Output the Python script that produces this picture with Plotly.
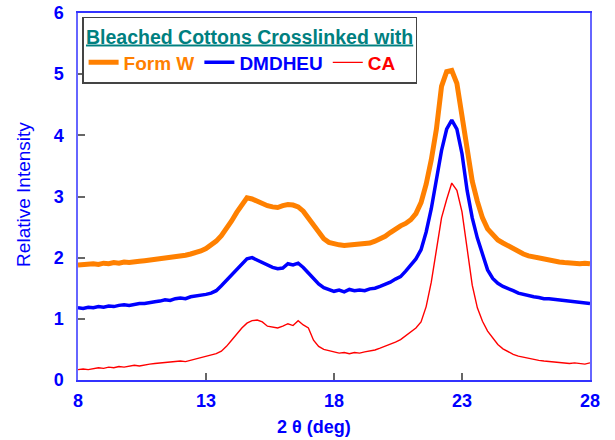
import plotly.graph_objects as go

two_theta = [round(8 + 0.2 * i, 1) for i in range(101)]

form_w = [1.88, 1.89, 1.88, 1.90, 1.89, 1.91, 1.90, 1.92, 1.91, 1.93,
          1.92, 1.94, 1.94, 1.95, 1.96, 1.96, 1.98, 1.99, 2.00, 2.01,
          2.02, 2.04, 2.06, 2.08, 2.11, 2.15, 2.20, 2.27, 2.36, 2.47,
          2.60, 2.74, 2.86, 2.98, 2.96, 2.92, 2.89, 2.85, 2.83, 2.82,
          2.85, 2.87, 2.86, 2.83, 2.76, 2.65, 2.52, 2.40, 2.31, 2.25,
          2.22, 2.21, 2.20, 2.21, 2.20, 2.22, 2.22, 2.24, 2.27, 2.30,
          2.35, 2.41, 2.47, 2.52, 2.56, 2.62, 2.72, 2.90, 3.20, 3.60,
          4.10, 4.80, 5.04, 5.06, 4.85, 4.30, 3.70, 3.25, 2.92, 2.65,
          2.47, 2.37, 2.29, 2.24, 2.19, 2.14, 2.10, 2.06, 2.03, 2.01,
          1.99, 1.97, 1.95, 1.94, 1.93, 1.92, 1.91, 1.92, 1.90, 1.91, 1.90]

dmdheu = [1.18, 1.17, 1.19, 1.18, 1.20, 1.19, 1.21, 1.20, 1.22, 1.23,
          1.22, 1.24, 1.25, 1.25, 1.27, 1.28, 1.29, 1.31, 1.30, 1.33,
          1.34, 1.33, 1.36, 1.37, 1.39, 1.40, 1.42, 1.46, 1.54, 1.63,
          1.72, 1.81, 1.90, 1.98, 2.00, 1.96, 1.92, 1.87, 1.84, 1.82,
          1.83, 1.90, 1.88, 1.91, 1.84, 1.75, 1.65, 1.57, 1.51, 1.48,
          1.45, 1.47, 1.44, 1.48, 1.46, 1.47, 1.46, 1.49, 1.50, 1.53,
          1.56, 1.60, 1.65, 1.69, 1.78, 1.88, 1.98, 2.13, 2.42, 2.80,
          3.28, 3.75, 4.10, 4.25, 4.10, 3.70, 3.10, 2.65, 2.32, 2.05,
          1.80, 1.66, 1.58, 1.53, 1.50, 1.46, 1.42, 1.40, 1.37, 1.36,
          1.35, 1.33, 1.33, 1.32, 1.31, 1.30, 1.29, 1.28, 1.28, 1.26, 1.25]

ca = [0.17, 0.18, 0.17, 0.19, 0.20, 0.19, 0.21, 0.20, 0.22, 0.21,
      0.23, 0.24, 0.23, 0.25, 0.26, 0.27, 0.28, 0.28, 0.29, 0.30,
      0.31, 0.30, 0.32, 0.34, 0.36, 0.38, 0.40, 0.43, 0.47, 0.55,
      0.65, 0.75, 0.85, 0.93, 0.97, 0.98, 0.95, 0.88, 0.86, 0.85,
      0.88, 0.92, 0.89, 0.97, 0.90, 0.85, 0.65, 0.55, 0.50, 0.48,
      0.46, 0.44, 0.45, 0.43, 0.45, 0.44, 0.46, 0.47, 0.49, 0.52,
      0.55, 0.58, 0.62, 0.66, 0.72, 0.78, 0.85, 0.95, 1.20, 1.60,
      2.15, 2.65, 2.95, 3.22, 3.10, 2.75, 2.15, 1.55, 1.18, 0.96,
      0.80, 0.68, 0.58, 0.51, 0.46, 0.42, 0.39, 0.37, 0.35, 0.33,
      0.32, 0.31, 0.30, 0.29, 0.28, 0.28, 0.27, 0.28, 0.27, 0.26, 0.28]

x_ticks = [8, 13, 18, 23, 28]
y_ticks = [0, 1, 2, 3, 4, 5, 6]

series = [
    ("Form W", form_w, "#FF8000", 5),
    ("DMDHEU", dmdheu, "#0000FF", 3.5),
    ("CA", ca, "#FF0000", 1.4),
]

FONT = "Liberation Sans, Arial, sans-serif"
BLUE = "#0000FF"

fig = go.Figure()
for name, vals, color, w in series:
    fig.add_trace(go.Scatter(
        x=two_theta, y=vals, mode="lines",
        line=dict(color=color, width=w),
        name=f"<span style='color:{color}'><b>{name}</b></span>",
    ))

fig.update_layout(
    width=615, height=440,
    margin=dict(l=78, r=25, t=13, b=60, autoexpand=False),
    paper_bgcolor="white", plot_bgcolor="white",
    showlegend=True,
    legend=dict(
        orientation="h",
        x=0.008, y=0.99, xanchor="left", yanchor="top",
        bordercolor="#444444", borderwidth=1.5,
        bgcolor="white",
        font=dict(family=FONT, size=19),
        title=dict(
            text="<b><u>Bleached Cottons Crosslinked with</u></b>",
            side="top center",
            font=dict(family=FONT, size=19.5, color="#008080"),
        ),
        itemwidth=30,
        tracegroupgap=0,
    ),
    annotations=[
        dict(
            text="<b>2 θ (deg)</b>", xref="paper", yref="paper",
            x=0.461, y=-0.128, xanchor="center", yanchor="middle",
            showarrow=False, font=dict(family=FONT, size=18, color=BLUE),
        ),
        dict(
            text="Relative Intensity", xref="paper", yref="paper",
            x=-0.107, y=0.505, xanchor="center", yanchor="middle",
            textangle=-90,
            showarrow=False, font=dict(family=FONT, size=19, color=BLUE),
        ),
    ],
)

fig.update_xaxes(
    range=[8, 28], tickvals=x_ticks, automargin=False,
    showgrid=False, zeroline=False,
    showline=True, linecolor="#3333FF", linewidth=1.5, mirror=True,
    ticks="inside", ticklen=7, tickcolor="#666666", tickwidth=1.5,
    tickfont=dict(family=FONT, size=18, color=BLUE, weight="bold"),
    ticklabelstandoff=4,
)
fig.update_yaxes(
    range=[0, 6], tickvals=y_ticks, automargin=False,
    showgrid=False, zeroline=False,
    showline=True, linecolor="#6666FF", linewidth=1.5, mirror=True,
    ticks="inside", ticklen=7, tickcolor="#666666", tickwidth=1.5,
    tickfont=dict(family=FONT, size=18, color=BLUE, weight="bold"),
    ticklabelstandoff=9,
)

fig.write_html("out.html")
